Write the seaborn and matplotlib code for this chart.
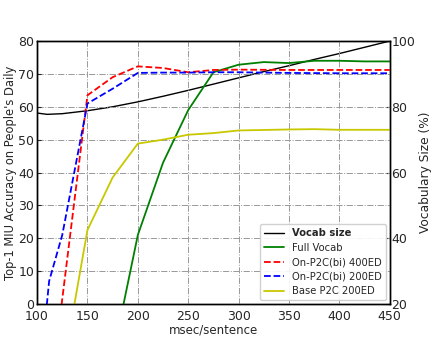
import matplotlib
matplotlib.use("Agg")
import matplotlib.pyplot as plt
import seaborn as sns
import numpy as np
import pandas as pd

# Data
vocab_x = [100, 110, 125, 150, 175, 200, 225, 250, 275, 300, 325, 350, 375, 400, 425, 450]
vocab_y = [78.1, 77.7, 77.9, 78.8, 80.0, 81.5, 83.2, 85.0, 86.9, 88.8, 90.7, 92.5, 94.4, 96.2, 98.1, 100.0]

full_x = [175, 200, 225, 250, 275, 300, 325, 350, 375, 400, 425, 450]
full_y = [-16, 21.0, 43.0, 59.0, 70.5, 72.8, 73.6, 73.3, 74.0, 74.0, 73.8, 73.8]

red_x = [100, 125, 150, 175, 200, 225, 250, 275, 300, 350, 400, 450]
red_y = [-60, 1.5, 63.5, 69.0, 72.3, 71.8, 70.5, 71.2, 71.3, 71.2, 71.2, 71.2]

blue_x = [100, 112, 125, 150, 175, 200, 225, 250, 275, 300, 350, 400, 450]
blue_y = [-30, 7.0, 21.0, 61.0, 65.5, 70.3, 70.4, 70.4, 70.5, 70.5, 70.3, 70.2, 70.2]

base_x = [125, 150, 175, 200, 225, 250, 275, 300, 350, 375, 400, 450]
base_y = [-21, 22.5, 38.5, 48.8, 50.0, 51.5, 52.0, 52.8, 53.1, 53.2, 53.0, 53.0]

x_ticks = [100, 150, 200, 250, 300, 350, 400, 450]
left_ticks = [0, 10, 20, 30, 40, 50, 60, 70, 80]
right_ticks = [20, 40, 60, 80, 100]

sns.set_style("white")
plt.rcParams['font.family'] = ['DejaVu Sans']

fig = plt.figure(figsize=(4.36, 3.42), dpi=100)
ax = fig.add_axes([0.085, 0.111, 0.809, 0.769])
ax2 = ax.twinx()

grid_kw = dict(color="#999999", linestyle="-.", linewidth=0.7)
for xv in x_ticks:
    ax.axvline(xv, zorder=0, **grid_kw)
for yv in left_ticks:
    ax.axhline(yv, zorder=0, **grid_kw)

lw = 1.3
sns.lineplot(x=vocab_x, y=vocab_y, ax=ax2, color="black", linewidth=1.0, label="Vocab size", legend=False)
sns.lineplot(x=full_x, y=full_y, ax=ax, color="green", linewidth=lw, label="Full Vocab", legend=False)
sns.lineplot(x=red_x, y=red_y, ax=ax, color="red", linewidth=lw, linestyle="--", label="On-P2C(bi) 400ED", legend=False)
sns.lineplot(x=blue_x, y=blue_y, ax=ax, color="blue", linewidth=lw, linestyle="--", label="On-P2C(bi) 200ED", legend=False)
sns.lineplot(x=base_x, y=base_y, ax=ax, color="#c8c800", linewidth=lw, label="Base P2C 200ED", legend=False)

ax.set_xlim(100, 450)
ax.set_ylim(0, 80)
ax2.set_ylim(20, 100)
ax.set_xticks(x_ticks)
ax.set_yticks(left_ticks)
ax2.set_yticks(right_ticks)
ax.tick_params(axis="y", direction="in", labelsize=9, length=3, pad=2)
ax.tick_params(axis="x", direction="in", labelsize=9, length=3, pad=4)
ax2.tick_params(direction="in", labelsize=9, length=3, pad=1)
ax.set_xlabel("msec/sentence", fontsize=8.5, labelpad=1)
ax.set_ylabel("Top-1 MIU Accuracy on People's Daily", fontsize=8.3, labelpad=1)
ax2.set_ylabel("Vocabulary Size (%)", fontsize=8.8, labelpad=3)
for a in (ax, ax2):
    for s in a.spines.values():
        s.set_color("black")
        s.set_linewidth(1.0)

h1, l1 = ax2.get_legend_handles_labels()
h2, l2 = ax.get_legend_handles_labels()
leg = ax.legend(h1 + h2, l1 + l2, loc="lower right", fontsize=7.2, frameon=True,
                fancybox=True, framealpha=0.9, edgecolor="#cccccc",
                handlelength=2.0, borderaxespad=0.4, labelspacing=0.45)
leg.texts[0].set_fontweight("bold")
ax.set_zorder(ax2.get_zorder() + 1)
ax.patch.set_visible(False)

fig.savefig("out.png", dpi=100)
